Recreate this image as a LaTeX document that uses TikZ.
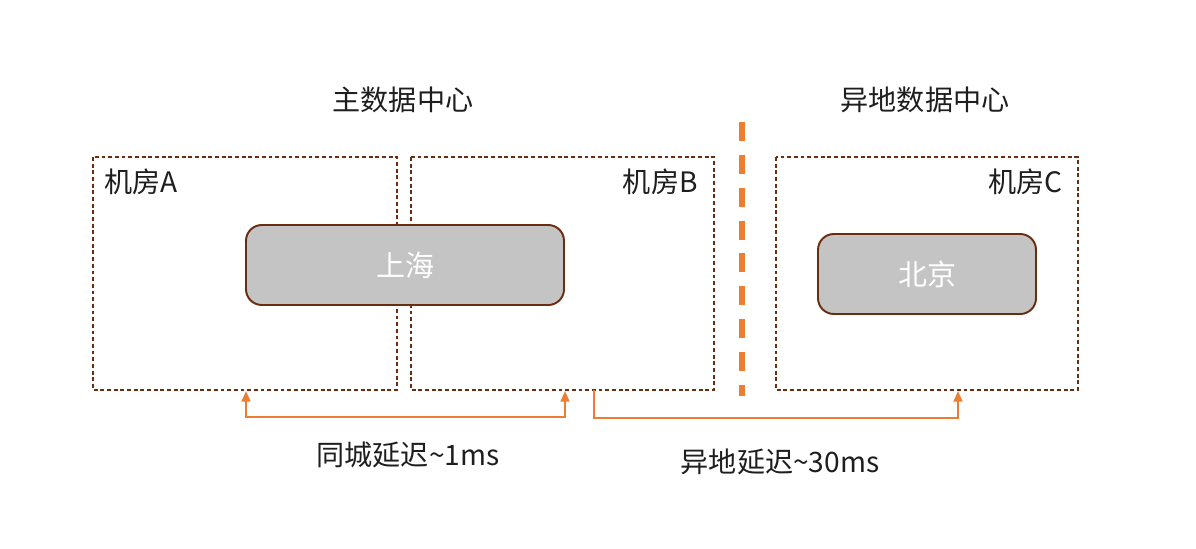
\documentclass[tikz,border=0pt]{standalone}
\usepackage{fontspec}
\setmainfont{Noto Sans CJK SC}
\usetikzlibrary{arrows.meta}
\definecolor{brn}{HTML}{6B2D0F}
\definecolor{org}{HTML}{ED7D31}
\definecolor{gry}{HTML}{C4C4C4}
\definecolor{txt}{HTML}{1E1E1E}
\tikzset{
  room/.style={draw=brn, line width=1.1pt, dash pattern=on 2.2pt off 1.6pt},
  city/.style={draw=brn, line width=1.1pt, fill=gry, rounded corners=9pt, text=white, font=\fontsize{16.5}{18}\selectfont},
  lbl/.style={text=txt, font=\fontsize{16}{18}\selectfont, inner sep=0pt},
  link/.style={draw=org, line width=1.1pt, -{Triangle[length=6pt,width=5pt]}},
}
\begin{document}
\begin{tikzpicture}[x=0.02cm,y=-0.02cm]
\useasboundingbox[fill=white] (0,0) rectangle (1196,548);
% rooms
\draw[room] (93,157) rectangle (397,390);
\draw[room] (411,157) rectangle (714,390);
\draw[room] (776,157) rectangle (1078,390);
\coordinate (aBot) at (246,391);
\coordinate (bBot) at (565,391);
\coordinate (bOut) at (594,390);
\coordinate (cBot) at (958,391);
% labels
\node[lbl, anchor=west] (la) at (104,182) {机房A};
\node[lbl, anchor=east] (lb) at (698,182) {机房B};
\node[lbl, anchor=east] (lc) at (1063,182) {机房C};
\node[lbl] (t1) at (403,100) {主数据中心};
\node[lbl] (t2) at (925,100) {异地数据中心};
% city boxes
\node[city, minimum width=318*0.02cm, minimum height=80*0.02cm] (sh) at (405,265) {上海};
\node[city, minimum width=218*0.02cm, minimum height=80*0.02cm] (bj) at (927,274) {北京};
% divider
\draw[org, line width=2.9pt, dash pattern=on 10.8pt off 7.9pt] (742,122) -- (742,396);
% links
\draw[link, {Triangle[length=6pt,width=5pt]}-{Triangle[length=6pt,width=5pt]}] (aBot) -- (246,417) -- (565,417) -- (bBot);
\draw[link] (bOut) -- (594,418) -- (958,418) -- (cBot);
\node[lbl] (d1) at (408,455) {同城延迟\textasciitilde1ms};
\node[lbl] (d2) at (780,462) {异地延迟\textasciitilde30ms};
\end{tikzpicture}
\end{document}
